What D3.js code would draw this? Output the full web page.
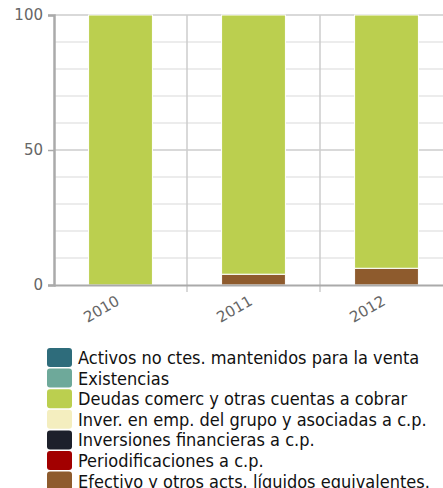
<!DOCTYPE html>
<html>
<head>
<meta charset="utf-8">
<script src="https://cdn.jsdelivr.net/npm/d3@7"></script>
<style>
  body { margin: 0; background: #fff; }
  svg { display: block; }
</style>
</head>
<body>
<div id="chart"></div>
<script>
// years on the x axis
const years = ["2010", "2011", "2012"];

// series, bottom of the stack first
const seriesNames = [
  "Efectivo y otros acts. líquidos equivalentes.",
  "Periodificaciones a c.p.",
  "Inversiones financieras a c.p.",
  "Inver. en emp. del grupo y asociadas a c.p.",
  "Deudas comerc y otras cuentas a cobrar",
  "Existencias",
  "Activos no ctes. mantenidos para la venta"
];
const seriesColors = ["#8e5b2d", "#a20000", "#1d202b", "#f4eebf", "#bbcf4f", "#6ea99a", "#2e6c7b"];

// percent of total for each series, per year
const efectivo = [0, 4.0, 6.2];
const periodificaciones = [0, 0, 0];
const invFinancieras = [0, 0, 0];
const invGrupo = [0, 0, 0];
const deudas = [100, 96.0, 93.8];
const existencias = [0, 0, 0];
const activosVenta = [0, 0, 0];

const yTicks = [0, 50, 100];

const width = 443, height = 488;
const margin = {top: 15, left: 54, bottom: 203};
const bandW = 133;

const values = [efectivo, periodificaciones, invFinancieras, invGrupo, deudas, existencias, activosVenta];
const table = years.map((y, i) => {
  const row = {year: y};
  seriesNames.forEach((s, k) => row[s] = values[k][i]);
  return row;
});
const stacked = d3.stack().keys(seriesNames)(table);

const svg = d3.select("#chart").append("svg")
  .attr("width", width)
  .attr("height", height);

const x = d3.scaleBand()
  .domain(years)
  .range([margin.left, margin.left + bandW * years.length])
  .paddingInner(0.52)
  .paddingOuter(0.26);

const y = d3.scaleLinear()
  .domain([0, 100])
  .range([height - margin.bottom, margin.top]);

// minor grid
svg.append("g")
  .selectAll("line")
  .data(d3.range(10, 100, 10).filter(v => v !== 50))
  .join("line")
    .attr("x1", margin.left).attr("x2", width)
    .attr("y1", d => y(d)).attr("y2", d => y(d))
    .attr("stroke", "#e6e6e6").attr("stroke-width", 1.5);

// major grid
svg.append("g")
  .selectAll("line")
  .data([50, 100])
  .join("line")
    .attr("x1", margin.left).attr("x2", width)
    .attr("y1", d => y(d)).attr("y2", d => y(d))
    .attr("stroke", "#cccccc").attr("stroke-width", 1.5);

// vertical grid between years
svg.append("g")
  .selectAll("line")
  .data([1, 2])
  .join("line")
    .attr("x1", d => margin.left + bandW * d).attr("x2", d => margin.left + bandW * d)
    .attr("y1", y(100)).attr("y2", y(0) + 7)
    .attr("stroke", "#cccccc").attr("stroke-width", 1.5);

// bars
svg.append("g")
  .selectAll("g")
  .data(stacked)
  .join("g")
    .attr("fill", (d, i) => seriesColors[i])
  .selectAll("rect")
  .data(d => d.filter(p => p[1] - p[0] > 0))
  .join("rect")
    .attr("x", d => x(d.data.year))
    .attr("width", x.bandwidth())
    .attr("y", d => y(d[1]))
    .attr("height", d => y(d[0]) - y(d[1]))
    .attr("stroke", "#fff")
    .attr("stroke-width", 1);

// y axis
const yAxis = svg.append("g")
  .attr("transform", `translate(${margin.left},0)`)
  .call(d3.axisLeft(y).tickValues(yTicks).tickSize(6).tickPadding(5));
yAxis.select(".domain").attr("stroke", "#aaaaaa").attr("stroke-width", 2.5);
yAxis.selectAll(".tick line").attr("stroke", "#aaaaaa").attr("stroke-width", 1.5);
yAxis.selectAll(".tick text")
  .attr("fill", "#666").attr("font-family", "DejaVu Sans").attr("font-size", 15);
yAxis.selectAll(".tick").filter(d => d === 0)
  .append("line").attr("x2", width).attr("stroke", "#aaaaaa").attr("stroke-width", 2);

// x axis labels
const xAxis = svg.append("g")
  .attr("transform", `translate(0,${y(0)})`)
  .call(d3.axisBottom(x).tickSize(0).tickPadding(0));
xAxis.select(".domain").remove();
xAxis.selectAll(".tick text")
  .attr("fill", "#666").attr("font-family", "DejaVu Sans").attr("font-size", 15)
  .attr("text-anchor", "end")
  .attr("dy", 0)
  .attr("transform", "translate(0,19) rotate(-30)");

// legend, top series first
const legendNames = seriesNames.slice().reverse();
const legendColors = seriesColors.slice().reverse();
const legend = svg.append("g").attr("transform", "translate(47,348)");
const item = legend.selectAll("g")
  .data(legendNames)
  .join("g")
    .attr("transform", (d, i) => `translate(0,${i * 20.6})`);
item.append("rect")
  .attr("width", 25).attr("height", 19).attr("rx", 3)
  .attr("fill", (d, i) => legendColors[i]);
item.append("text")
  .attr("x", 31).attr("y", 16)
  .attr("font-family", "DejaVu Sans Condensed").attr("font-size", 18)
  .attr("fill", "#111")
  .text(d => d);
</script>
</body>
</html>
